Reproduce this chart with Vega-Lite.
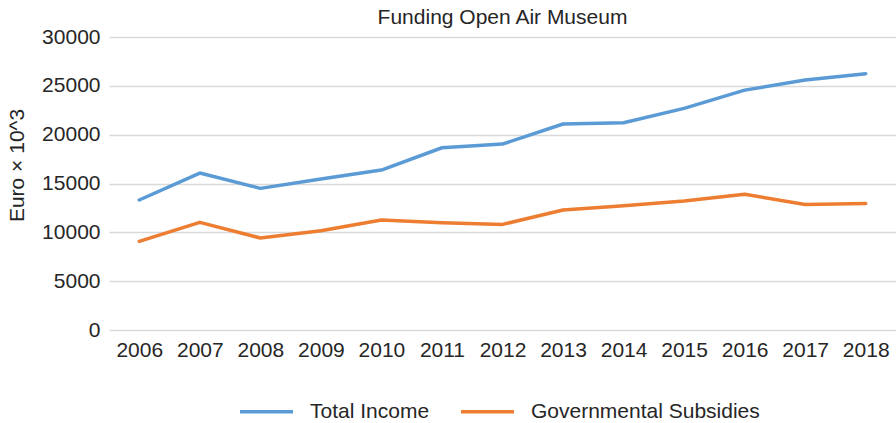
{
  "$schema": "https://vega.github.io/schema/vega-lite/v6.json",
  "width": 787,
  "height": 293,
  "autosize": {"type": "none"},
  "padding": {"left": 109, "top": 37, "right": 0, "bottom": 93},
  "background": "white",
  "title": {
    "text": "Funding Open Air Museum",
    "anchor": "middle",
    "fontSize": 21,
    "fontWeight": "normal",
    "font": "Liberation Sans",
    "color": "#262626",
    "offset": -2
  },
  "config": {
    "view": {"stroke": null},
    "font": "Liberation Sans"
  },
  "data": {
    "values": [
      {"year": "2006", "series": "Total Income", "value": 13310},
      {"year": "2007", "series": "Total Income", "value": 16070},
      {"year": "2008", "series": "Total Income", "value": 14500},
      {"year": "2009", "series": "Total Income", "value": 15460},
      {"year": "2010", "series": "Total Income", "value": 16380},
      {"year": "2011", "series": "Total Income", "value": 18660},
      {"year": "2012", "series": "Total Income", "value": 19040},
      {"year": "2013", "series": "Total Income", "value": 21090},
      {"year": "2014", "series": "Total Income", "value": 21220},
      {"year": "2015", "series": "Total Income", "value": 22690},
      {"year": "2016", "series": "Total Income", "value": 24560},
      {"year": "2017", "series": "Total Income", "value": 25590},
      {"year": "2018", "series": "Total Income", "value": 26240},
      {"year": "2006", "series": "Governmental Subsidies", "value": 9080},
      {"year": "2007", "series": "Governmental Subsidies", "value": 11020},
      {"year": "2008", "series": "Governmental Subsidies", "value": 9420},
      {"year": "2009", "series": "Governmental Subsidies", "value": 10170},
      {"year": "2010", "series": "Governmental Subsidies", "value": 11260},
      {"year": "2011", "series": "Governmental Subsidies", "value": 10980},
      {"year": "2012", "series": "Governmental Subsidies", "value": 10810},
      {"year": "2013", "series": "Governmental Subsidies", "value": 12280},
      {"year": "2014", "series": "Governmental Subsidies", "value": 12720},
      {"year": "2015", "series": "Governmental Subsidies", "value": 13200},
      {"year": "2016", "series": "Governmental Subsidies", "value": 13890},
      {"year": "2017", "series": "Governmental Subsidies", "value": 12860},
      {"year": "2018", "series": "Governmental Subsidies", "value": 12960}
    ]
  },
  "mark": {"type": "line", "strokeWidth": 3.5, "strokeCap": "round", "strokeJoin": "round"},
  "encoding": {
    "x": {
      "field": "year",
      "type": "ordinal",
      "scale": {"type": "point", "padding": 0.5},
      "axis": {
        "title": null,
        "labelAngle": 0,
        "labelFontSize": 21,
        "labelColor": "#262626",
        "labelPadding": 9,
        "domain": false,
        "ticks": false,
        "grid": false
      }
    },
    "y": {
      "field": "value",
      "type": "quantitative",
      "scale": {"domain": [0, 30000], "nice": false},
      "axis": {
        "title": "Euro × 10^3",
        "titleFontSize": 21,
        "titleFontWeight": "normal",
        "titleColor": "#262626",
        "titleX": -82,
        "titleY": 128,
        "values": [0, 5000, 10000, 15000, 20000, 25000, 30000],
        "format": "d",
        "labelFontSize": 21,
        "labelColor": "#262626",
        "labelPadding": 9,
        "domain": false,
        "ticks": false,
        "gridColor": "#d9d9d9",
        "gridWidth": 1.5
      }
    },
    "color": {
      "field": "series",
      "type": "nominal",
      "scale": {
        "domain": ["Total Income", "Governmental Subsidies"],
        "range": ["#5b9bd5", "#ed7d31"]
      },
      "legend": {
        "title": null,
        "orient": "none",
        "direction": "horizontal",
        "legendX": 129,
        "legendY": 346,
        "symbolType": "stroke",
        "symbolSize": 2809,
        "symbolStrokeWidth": 3.5,
        "labelFontSize": 21,
        "labelColor": "#262626",
        "labelOffset": 15,
        "columnPadding": 24,
        "labelLimit": 400
      }
    }
  }
}
